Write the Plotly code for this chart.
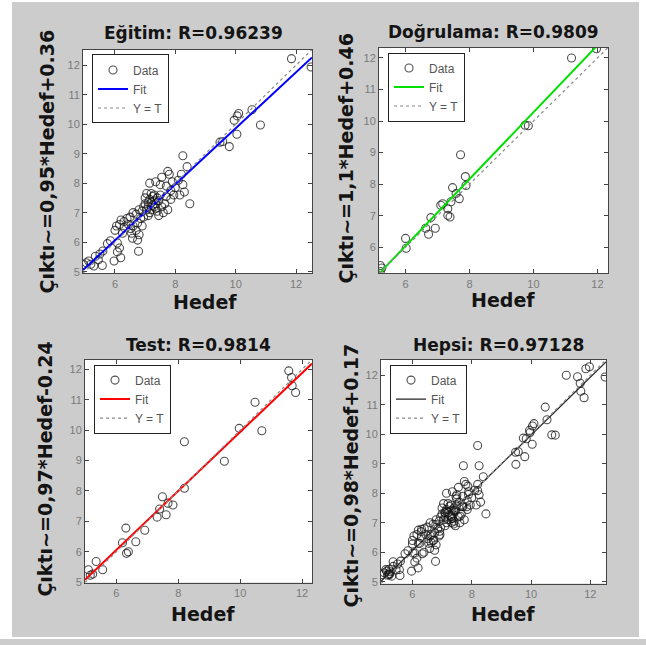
import plotly.graph_objects as go

W, H = 646, 645

# ---------------- data ----------------
train_t = [11.85, 12.5, 10.54, 10.82, 9.95, 10.05, 10.1, 10.04, 9.48, 9.57, 9.79, 8.25, 8.39, 8.48,
           8.2, 8.1, 8.0, 8.25, 8.3, 8.15, 7.9, 7.75, 7.8, 7.55, 7.35, 7.15, 7.5, 7.7, 7.85, 7.95,
           7.85, 7.7, 7.65, 7.75, 7.6, 7.55, 7.4, 7.45,
           7.0, 7.1, 7.2, 7.25, 7.3, 7.15, 7.05, 7.2, 7.3, 7.35, 7.4, 7.1, 7.25, 7.0, 6.95, 7.15,
           7.3, 7.45, 7.5, 7.2, 7.05, 6.9, 7.1, 6.95, 7.35,
           6.8, 6.7, 6.6, 6.5, 6.4, 6.3, 6.2, 6.15, 6.85, 6.75, 6.6, 6.45, 6.9, 6.7, 6.3, 6.05,
           6.0, 6.55, 6.8, 6.25,
           6.52, 6.58, 6.75, 6.78, 6.08, 6.08, 5.97, 6.19, 6.15, 5.75, 5.85, 5.6,
           4.96, 5.05, 5.13, 5.2, 5.35, 5.58, 5.3, 5.45, 5.5]
train_y = [12.22, 11.94, 10.49, 9.97, 10.13, 10.28, 10.36, 9.66, 9.39, 9.41, 9.24, 8.93, 8.56, 7.3,
           8.3, 8.1, 7.85, 7.95, 7.7, 7.6, 8.05, 8.4, 8.3, 8.2, 8.05, 8.0, 7.95, 7.9, 7.75, 7.6,
           7.45, 7.55, 7.3, 7.1, 7.0, 7.2, 7.05, 6.9,
           7.3, 7.2, 7.35, 7.25, 7.4, 7.45, 7.1, 7.1, 7.2, 7.3, 7.5, 7.35, 7.55, 7.5, 7.2, 7.0,
           7.6, 7.4, 7.6, 7.65, 7.65, 7.05, 6.9, 6.85, 7.15,
           7.1, 6.95, 7.0, 6.85, 6.8, 6.7, 6.75, 6.6, 6.8, 6.65, 6.55, 6.6, 6.55, 6.4, 6.5, 6.55,
           6.4, 6.3, 6.25, 6.3,
           6.46, 6.13, 6.07, 5.69, 5.97, 5.67, 5.36, 5.47, 5.8, 5.95, 6.05, 5.7,
           5.24, 5.3, 5.36, 5.25, 5.52, 5.21, 5.19, 5.4, 5.6]

val_t = [11.97, 11.19, 9.74, 9.84, 7.72, 7.87, 7.89, 7.47, 7.68, 7.58, 7.1, 7.16, 7.32, 7.39,
         7.32, 7.42, 6.79, 6.93, 6.63, 6.72, 6.0, 6.02, 5.21, 5.26, 5.21]
val_y = [12.29, 12.0, 9.87, 9.85, 8.93, 8.24, 7.96, 7.89, 7.54, 7.7, 7.33, 7.38, 7.22, 6.96,
         7.01, 7.44, 6.94, 6.6, 6.6, 6.41, 6.28, 5.97, 5.42, 5.34, 5.23]

test_t = [11.57, 11.66, 11.68, 11.79, 10.48, 10.7, 9.97, 8.2, 9.49, 8.2, 7.49, 7.83, 7.61, 7.4,
          7.32, 7.67, 6.92, 6.31, 6.63, 6.2, 6.39, 6.33, 5.35, 5.56, 5.1, 5.24, 5.16]
test_y = [11.95, 11.73, 11.46, 11.24, 10.92, 9.98, 10.06, 9.62, 8.98, 8.09, 7.81, 7.54, 7.22, 7.41,
          7.14, 7.6, 6.71, 6.78, 6.33, 6.3, 6.0, 5.95, 5.68, 5.41, 5.41, 5.27, 5.23]

all_t = train_t + val_t + test_t
all_y = train_y + val_y + test_y

titles = ["Eğitim: R=0.96239", "Doğrulama: R=0.9809", "Test: R=0.9814", "Hepsi: R=0.97128"]
ylabels = ["Çıktı~=0,95*Hedef+0.36", "Çıktı~=1,1*Hedef+0.46",
           "Çıktı~=0,97*Hedef-0.24", "Çıktı~=0,98*Hedef+0.17"]
fit_slope = [0.95, 1.06, 0.97, 0.98]
fit_icpt = [0.36, -0.32, 0.24, 0.17]
fit_colors = ["#0000ff", "#00e000", "#ff0000", "#222222"]
xlabel = "Hedef"
legend_names = ["Data", "Fit", "Y = T"]
xticks = [6, 8, 10, 12]
yticks = [5, 6, 7, 8, 9, 10, 11, 12]

# ---------------- layout (pixel boxes) ----------------
ranges = [(4.94, 12.53), (5.17, 12.33), (4.99, 12.32), (4.94, 12.53)]
boxes = [(83, 50, 312, 276), (379, 48, 608, 276), (85, 363, 312, 588), (381, 363, 606, 589)]
title_pos = [(193, 33), (494, 32), (198, 348), (498, 348)]
ylab_pos = [(47, 163), (346, 160), (45, 474), (351, 480)]
xlab_pos = [(205, 305), (503, 303), (203, 620), (503, 620)]

datasets = [(train_t, train_y), (val_t, val_y), (test_t, test_y), (all_t, all_y)]

fig = go.Figure()
TXT = "#141414"
ann = []

for i in range(4):
    ax = "" if i == 0 else str(i + 1)
    xa, ya = "x" + ax, "y" + ax
    lg = "legend" + ax
    lo, hi = ranges[i]
    t, y = datasets[i]
    fig.add_trace(go.Scatter(x=t, y=y, mode="markers", name=legend_names[0],
                             marker=dict(symbol="circle-open", size=8,
                                         color="rgba(20,20,20,0.75)", line=dict(width=1.1)),
                             xaxis=xa, yaxis=ya, legend=lg))
    fx = [lo, hi]
    fy = [fit_slope[i] * v + fit_icpt[i] for v in fx]
    fig.add_trace(go.Scatter(x=fx, y=fy, mode="lines", name=legend_names[1],
                             line=dict(color=fit_colors[i], width=2 if i < 3 else 1.2),
                             xaxis=xa, yaxis=ya, legend=lg))
    fig.add_trace(go.Scatter(x=[lo, hi], y=[lo, hi], mode="lines", name=legend_names[2],
                             line=dict(color="#8a8a8a", width=1.2, dash="dot"),
                             xaxis=xa, yaxis=ya, legend=lg))
    x0, y0, x1, y1 = boxes[i]
    axcommon = dict(showgrid=False, zeroline=False, showline=True, linecolor="#444",
                    linewidth=1, mirror="ticks", ticks="inside", ticklen=4, tickcolor="#444",
                    tickfont=dict(family="Liberation Sans", size=11, color="#7a7a7a"),
                    range=[lo, hi])
    fig.update_layout(**{
        "xaxis" + ax: dict(domain=[x0 / W, x1 / W], anchor=ya, tickvals=xticks, **axcommon),
        "yaxis" + ax: dict(domain=[1 - y1 / H, 1 - y0 / H], anchor=xa, tickvals=yticks, **axcommon),
        lg: dict(x=(x0 + 9) / W, y=1 - (y0 + 5) / H, xanchor="left", yanchor="top",
                 bgcolor="white", bordercolor="#222", borderwidth=1,
                 font=dict(family="Liberation Sans", size=12, color="#555"),
                 tracegroupgap=0, itemwidth=30),
    })
    tx, ty = title_pos[i]
    ann.append(dict(text=titles[i], x=tx / W, y=1 - ty / H, xref="paper", yref="paper",
                    showarrow=False, xanchor="center", yanchor="middle",
                    font=dict(family="DejaVu Sans", size=17, color=TXT, weight="bold")))
    lx, ly = ylab_pos[i]
    ann.append(dict(text=ylabels[i], x=lx / W, y=1 - ly / H, xref="paper", yref="paper",
                    showarrow=False, xanchor="center", yanchor="middle", textangle=-90,
                    font=dict(family="DejaVu Sans", size=19, color=TXT, weight="bold")))
    hx, hy = xlab_pos[i]
    ann.append(dict(text=xlabel, x=hx / W, y=1 - hy / H, xref="paper", yref="paper",
                    showarrow=False, xanchor="center", yanchor="middle",
                    font=dict(family="DejaVu Sans", size=19, color=TXT, weight="bold")))

# white strips outside the grey panel
strips = [(0, 0, 12, H), (639, 0, W, H), (0, 0, W, 2), (0, 643, W, H)]
shapes = [dict(type="rect", xref="paper", yref="paper", x0=a / W, x1=c / W,
               y0=1 - d / H, y1=1 - b / H, fillcolor="white", line=dict(width=0), layer="below")
          for a, b, c, d in strips]

fig.update_layout(width=W, height=H, margin=dict(l=0, r=0, t=0, b=0),
                  paper_bgcolor="#cccccc", plot_bgcolor="white",
                  annotations=ann, shapes=shapes, showlegend=True)

fig.write_html("out.html", config={"displayModeBar": False},
               post_script="document.body.style.margin='0px';"
                           "var gd=document.getElementById('{plot_id}');"
                           "gd.style.position='fixed';gd.style.left='0px';gd.style.top='0px';")
